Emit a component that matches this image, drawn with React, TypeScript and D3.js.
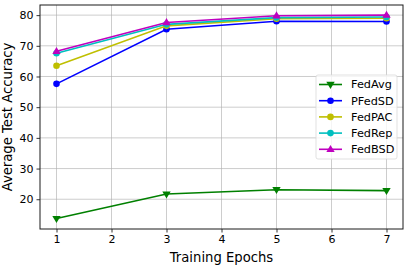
import React, { useRef, useEffect } from 'react';
import * as d3 from 'd3';

const epochs = [1, 3, 5, 7];
const seriesNames = ['FedAvg', 'PFedSD', 'FedPAC', 'FedRep', 'FedBSD'];
const fedAvg = [13.7, 21.7, 23.1, 22.8];
const pFedSD = [57.6, 75.4, 78.0, 77.9];
const fedPAC = [63.5, 76.5, 78.8, 79.0];
const fedRep = [67.6, 77.0, 79.2, 79.4];
const fedBSD = [68.2, 77.6, 79.8, 80.0];
const xTicks = [1, 2, 3, 4, 5, 6, 7];
const yTicks = [20, 30, 40, 50, 60, 70, 80];

const colors = ['#008000', '#0000ff', '#bfbf00', '#00bfbf', '#bf00bf'];
const markers = ['tri-down', 'circle', 'circle', 'circle', 'tri-up'];

export default function App() {
  const svgRef = useRef<SVGSVGElement>(null);
  const width = 407;
  const height = 267;
  const margin = { top: 5, right: 4, bottom: 38, left: 40 };

  useEffect(() => {
    const svg = d3.select(svgRef.current);
    svg.selectAll('*').remove();
    const font = 'DejaVu Sans, sans-serif';

    const x = d3.scaleLinear().domain([0.7, 7.3]).range([margin.left, width - margin.right]);
    const y = d3.scaleLinear().domain([10.3, 83.3]).range([height - margin.bottom, margin.top]);

    const allSeries = [fedAvg, pFedSD, fedPAC, fedRep, fedBSD];

    // grid
    const grid = svg.append('g');
    grid.selectAll('line.vx').data(xTicks).join('line')
      .attr('x1', d => x(d)).attr('x2', d => x(d))
      .attr('y1', margin.top).attr('y2', height - margin.bottom)
      .attr('stroke', '#b0b0b0').attr('stroke-opacity', 0.7).attr('stroke-width', 0.9);
    grid.selectAll('line.hy').data(yTicks).join('line')
      .attr('x1', margin.left).attr('x2', width - margin.right)
      .attr('y1', d => y(d)).attr('y2', d => y(d))
      .attr('stroke', '#b0b0b0').attr('stroke-opacity', 0.7).attr('stroke-width', 0.9);

    // axes
    svg.append('g')
      .attr('transform', `translate(0,${height - margin.bottom})`)
      .call(d3.axisBottom(x).tickValues(xTicks).tickSize(3.5).tickPadding(3).tickFormat(d3.format('d')))
      .call(g => g.select('.domain').remove())
      .call(g => g.selectAll('.tick line').attr('stroke', '#000').attr('stroke-width', 0.8))
      .call(g => g.selectAll('.tick text').attr('font-size', 11).attr('font-family', font).attr('fill', '#000'));

    svg.append('g')
      .attr('transform', `translate(${margin.left},0)`)
      .call(d3.axisLeft(y).tickValues(yTicks).tickSize(3.5).tickPadding(3))
      .call(g => g.select('.domain').remove())
      .call(g => g.selectAll('.tick line').attr('stroke', '#000').attr('stroke-width', 0.8))
      .call(g => g.selectAll('.tick text').attr('font-size', 11).attr('font-family', font).attr('fill', '#000'));

    // lines and markers
    const line = d3.line<number>().x((_, i) => x(epochs[i])).y(d => y(d));
    const tri = (up: boolean, s: number) =>
      up ? `M0,${-s}L${s * 0.95},${s * 0.6}L${-s * 0.95},${s * 0.6}Z`
         : `M0,${s}L${s * 0.95},${-s * 0.6}L${-s * 0.95},${-s * 0.6}Z`;
    const drawMarker = (g: any, kind: string, color: string, cx: number, cy: number) => {
      if (kind === 'circle') {
        g.append('circle').attr('cx', cx).attr('cy', cy).attr('r', 3.3).attr('fill', color);
      } else {
        g.append('path').attr('transform', `translate(${cx},${cy})`)
          .attr('d', tri(kind === 'tri-up', 4.4)).attr('fill', color);
      }
    };

    allSeries.forEach((vals, si) => {
      const g = svg.append('g');
      g.append('path').datum(vals).attr('d', line)
        .attr('fill', 'none').attr('stroke', colors[si]).attr('stroke-width', 1.6);
      vals.forEach((v, i) => drawMarker(g, markers[si], colors[si], x(epochs[i]), y(v)));
    });

    // frame
    svg.append('rect')
      .attr('x', margin.left).attr('y', margin.top)
      .attr('width', width - margin.right - margin.left)
      .attr('height', height - margin.bottom - margin.top)
      .attr('fill', 'none').attr('stroke', '#1a1a1a').attr('stroke-width', 1);

    // legend
    const lg = svg.append('g').attr('transform', 'translate(316,75)');
    lg.append('rect').attr('width', 81).attr('height', 84).attr('rx', 2)
      .attr('fill', '#fff').attr('fill-opacity', 0.8).attr('stroke', '#d9d9d9').attr('stroke-width', 0.8);
    seriesNames.forEach((name, i) => {
      const ly = 9.5 + i * 16.2;
      lg.append('line').attr('x1', 3).attr('x2', 26).attr('y1', ly).attr('y2', ly)
        .attr('stroke', colors[i]).attr('stroke-width', 1.6);
      drawMarker(lg, markers[i], colors[i], 14.5, ly);
      lg.append('text').attr('x', 35).attr('y', ly).attr('dy', '0.35em')
        .attr('font-size', 11.3).attr('font-family', font).attr('fill', '#000').text(name);
    });

    // axis titles
    svg.append('text')
      .attr('x', margin.left + (width - margin.right - margin.left) / 2).attr('y', 262)
      .attr('text-anchor', 'middle').attr('font-size', 13.2).attr('font-family', font)
      .text('Training Epochs');
    svg.append('text')
      .attr('transform', `translate(12,${(margin.top + height - margin.bottom) / 2}) rotate(-90)`)
      .attr('text-anchor', 'middle').attr('font-size', 13.2).attr('font-family', font)
      .text('Average Test Accuracy');
  }, []);

  return (
    <svg ref={svgRef} width={width} height={height}
      style={{ position: 'absolute', left: 0, top: 0, background: '#fff' }} />
  );
}
